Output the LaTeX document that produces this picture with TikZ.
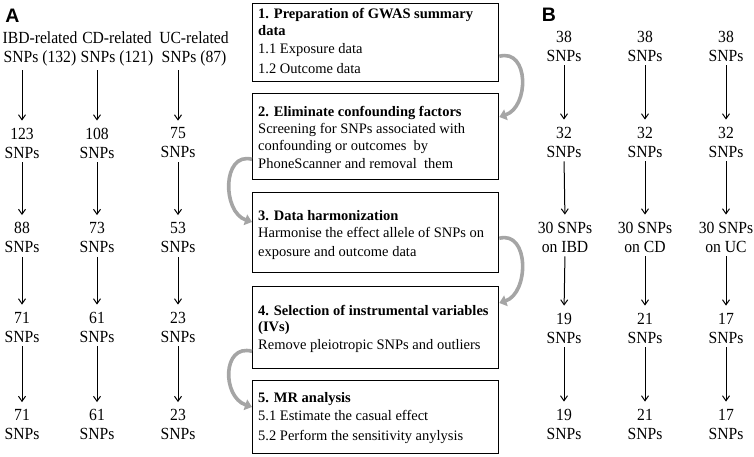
\documentclass[tikz,border=0pt]{standalone}
\usepackage{fontspec}
\setmainfont{Liberation Serif}
\newfontfamily\colfontfam[FakeStretch=0.92]{Liberation Serif}
\newfontfamily\panelfont{Liberation Sans}
\usetikzlibrary{arrows.meta}
\definecolor{arrowgray}{RGB}{165,165,165}
\begin{document}
\begin{tikzpicture}[x=1pt,y=-1pt,
  colnode/.style={inner sep=0pt, align=center, font=\colfontfam\fontsize{17}{19}\selectfont},
  colarr/.style={line width=1pt, -{Straight Barb[length=5pt,width=7pt]}, shorten <=4pt, shorten >=7pt},
  boxst/.style={draw, line width=1.3pt, inner sep=0pt, anchor=north west, minimum width=246pt},
  boxtxt/.style={inner sep=0pt, anchor=base west, font=\fontsize{14.5}{17.5}\selectfont},
  curvearr/.style={draw=arrowgray, line width=3.6pt, -{Triangle[length=7pt,width=11pt]}},
  panel/.style={inner sep=0pt, font=\panelfont\bfseries\fontsize{19.5}{20}\selectfont}
]
\useasboundingbox (0,0) rectangle (754,457);

% panel labels
\node[panel] (pA) at (12.5,15.5) {A};
\node[panel] (pB) at (549,14.5) {B};

% ---------- Panel A ----------
\node[colnode] (a11) at (40,49) {IBD-related\\SNPs (132)};
\node[colnode] (a21) at (117,49) {CD-related\\SNPs (121)};
\node[colnode] (a31) at (194,49) {UC-related\\SNPs (87)};

\node[colnode] (a12) at (22,143) {123\\SNPs};
\node[colnode] (a22) at (97,143) {108\\SNPs};
\node[colnode] (a32) at (178,143) {75\\SNPs};

\node[colnode] (a13) at (22,237.5) {88\\SNPs};
\node[colnode] (a23) at (97,237.5) {73\\SNPs};
\node[colnode] (a33) at (178,237.5) {53\\SNPs};

\node[colnode] (a14) at (22,327) {71\\SNPs};
\node[colnode] (a24) at (97,327) {61\\SNPs};
\node[colnode] (a34) at (178,327) {23\\SNPs};

\node[colnode] (a15) at (22,424.5) {71\\SNPs};
\node[colnode] (a25) at (97,424.5) {61\\SNPs};
\node[colnode] (a35) at (178,424.5) {23\\SNPs};

\foreach \c in {1,2,3}{
  \draw[colarr] (a\c1.south -| a\c2.north) -- (a\c2.north);
  \draw[colarr] (a\c2.south) -- (a\c3.north);
  \draw[colarr] (a\c3.south) -- (a\c4.north);
  \draw[colarr] (a\c4.south) -- (a\c5.north);
}

% ---------- Panel B ----------
\node[colnode] (b11) at (564,46) {38\\SNPs};
\node[colnode] (b21) at (645,46) {38\\SNPs};
\node[colnode] (b31) at (726,46) {38\\SNPs};

\node[colnode] (b12) at (564,142) {32\\SNPs};
\node[colnode] (b22) at (645,142) {32\\SNPs};
\node[colnode] (b32) at (726,142) {32\\SNPs};

\node[colnode] (b13) at (565,237) {30 SNPs\\on IBD};
\node[colnode] (b23) at (645,237) {30 SNPs\\on CD};
\node[colnode] (b33) at (726,237) {30 SNPs\\on UC};

\node[colnode] (b14) at (564,328) {19\\SNPs};
\node[colnode] (b24) at (645,328) {21\\SNPs};
\node[colnode] (b34) at (726,328) {17\\SNPs};

\node[colnode] (b15) at (564,424) {19\\SNPs};
\node[colnode] (b25) at (645,424) {21\\SNPs};
\node[colnode] (b35) at (726,424) {17\\SNPs};

\foreach \c in {1,2,3}{
  \draw[colarr] (b\c1.south) -- (b\c2.north);
  \draw[colarr] (b\c2.south) -- (b\c3.north);
  \draw[colarr] (b\c3.south) -- (b\c4.north);
  \draw[colarr] (b\c4.south) -- (b\c5.north);
}

% ---------- Middle boxes ----------
\node[boxst, minimum height=78pt] (s1) at (252,3) {};
\node[boxst, minimum height=86pt] (s2) at (252,93) {};
\node[boxst, minimum height=80pt] (s3) at (252,192) {};
\node[boxst, minimum height=82pt] (s4) at (252,286) {};
\node[boxst, minimum height=73pt] (s5) at (252,380) {};

\node[boxtxt] (t11) at (258,18.5) {\textbf{1. Preparation of GWAS summary}};
\node[boxtxt] (t12) at (258,36) {\textbf{data}};
\node[boxtxt] (t13) at (258,54) {1.1 Exposure data};
\node[boxtxt] (t14) at (258,74) {1.2 Outcome data};

\node[boxtxt] (t21) at (258,116.7) {\textbf{2. Eliminate confounding factors}};
\node[boxtxt] (t22) at (258,133.3) {Screening for SNPs associated with};
\node[boxtxt] (t23) at (258,150.7) {confounding or outcomes~ by};
\node[boxtxt] (t24) at (258,168.3) {PhoneScanner and removal~ them};

\node[boxtxt] (t31) at (258,220) {\textbf{3. Data harmonization}};
\node[boxtxt] (t32) at (258,237.7) {Harmonise the effect allele of SNPs on};
\node[boxtxt] (t33) at (258,256.7) {exposure and outcome data};

\node[boxtxt] (t41) at (258,315) {\textbf{4. Selection of instrumental variables}};
\node[boxtxt] (t42) at (258,331.7) {\textbf{(IVs)}};
\node[boxtxt] (t43) at (258,349.3) {Remove pleiotropic SNPs and outliers};

\node[boxtxt] (t51) at (258,402.7) {\textbf{5. MR analysis}};
\node[boxtxt] (t52) at (258,420) {5.1 Estimate the casual effect};
\node[boxtxt] (t53) at (258,440.7) {5.2 Perform the sensitivity anylysis};

% ---------- Curved arrows ----------
\draw[curvearr] ([yshift=26pt]s1.south east) .. controls +(30pt,8pt) and +(30pt,10pt) .. ([yshift=-24pt]s2.north east);
\draw[curvearr] ([yshift=21pt]s2.south west) .. controls +(-30pt,8pt) and +(-30pt,10pt) .. ([yshift=-30pt]s3.north west);
\draw[curvearr] ([yshift=35pt]s3.south east) .. controls +(30pt,8pt) and +(30pt,10pt) .. ([yshift=-17pt]s4.north east);
\draw[curvearr] ([yshift=18pt]s4.south west) .. controls +(-30pt,8pt) and +(-30pt,10pt) .. ([yshift=-27pt]s5.north west);
\end{tikzpicture}
\end{document}
